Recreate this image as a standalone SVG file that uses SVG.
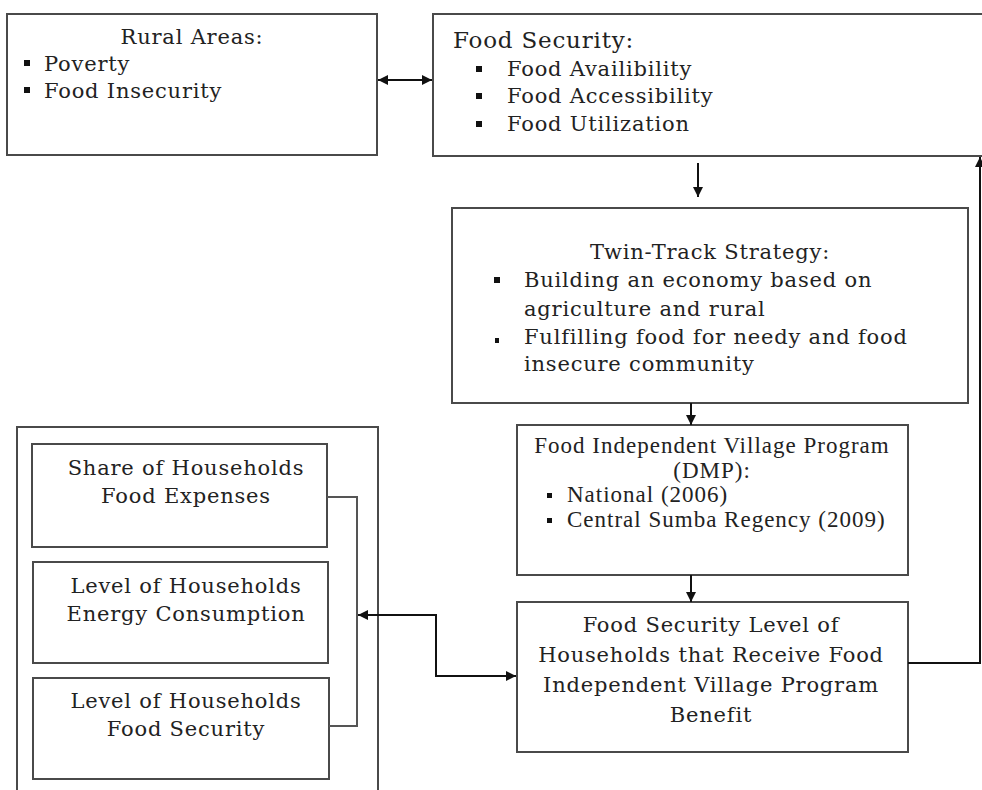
<svg xmlns="http://www.w3.org/2000/svg" width="982" height="790" viewBox="0 0 982 790">
<defs>
<style>
.box{fill:#fff;stroke:#4a4a4a;stroke-width:2}
.t{font-family:"DejaVu Serif","Liberation Serif",serif;font-size:21px;letter-spacing:0.8px;fill:#222}
.tc{font-family:"DejaVu Serif","Liberation Serif",serif;font-size:21px;letter-spacing:0.8px;fill:#222;text-anchor:middle}
.d{font-family:"Liberation Serif","DejaVu Serif",serif;font-size:23px;letter-spacing:1px;fill:#222}
.con{fill:none;stroke:#111;stroke-width:2}
.br{fill:none;stroke:#555;stroke-width:2}
.b{fill:#111}
</style>
<marker id="ah" viewBox="0 0 10 10" refX="10" refY="5" markerWidth="5" markerHeight="5" orient="auto-start-reverse" markerUnits="strokeWidth">
<path d="M0,0 L10,5 L0,10 z" fill="#111"/>
</marker>
</defs>
<rect width="982" height="790" fill="#fff"/>

<g id="rural">
<rect class="box" x="7" y="14" width="370" height="141"/>
<text class="tc" x="192" y="44">Rural Areas:</text>
<rect class="b" x="24" y="60" width="6" height="6"/>
<text class="t" x="44" y="71">Poverty</text>
<rect class="b" x="24" y="87" width="6" height="6"/>
<text class="t" x="44" y="98">Food Insecurity</text>
</g>

<g id="foodsecurity">
<rect class="box" x="433" y="14" width="570" height="142"/>
<text class="t" x="453" y="48" style="font-size:23px">Food Security:</text>
<rect class="b" x="476" y="66" width="6" height="6"/>
<text class="t" x="507" y="76">Food Availibility</text>
<rect class="b" x="476" y="93" width="6" height="6"/>
<text class="t" x="507" y="103">Food Accessibility</text>
<rect class="b" x="476" y="121" width="6" height="6"/>
<text class="t" x="507" y="131">Food Utilization</text>
</g>

<g id="twintrack">
<rect class="box" x="452" y="208" width="516" height="195"/>
<text class="tc" x="710" y="259">Twin-Track Strategy:</text>
<rect class="b" x="494" y="277" width="6" height="6"/>
<text class="t" x="524" y="287">Building an economy based on</text>
<text class="t" x="524" y="316">agriculture and rural</text>
<rect class="b" x="495" y="338" width="4" height="5"/>
<text class="t" x="524" y="344">Fulfilling food for needy and food</text>
<text class="t" x="524" y="371">insecure community</text>
</g>

<g id="dmp">
<rect class="box" x="517" y="425" width="391" height="150"/>
<text class="d" x="712" y="453" text-anchor="middle">Food Independent Village Program</text>
<text class="d" x="712" y="478" text-anchor="middle">(DMP):</text>
<rect class="b" x="547" y="493" width="5" height="5"/>
<text class="d" x="567" y="502">National (2006)</text>
<rect class="b" x="547" y="518" width="5" height="5"/>
<text class="d" x="567" y="527">Central Sumba Regency (2009)</text>
</g>

<g id="fsl">
<rect class="box" x="517" y="602" width="391" height="150"/>
<text class="tc" x="711" y="632">Food Security Level of</text>
<text class="tc" x="711" y="662">Households that Receive Food</text>
<text class="tc" x="711" y="692">Independent Village Program</text>
<text class="tc" x="711" y="722">Benefit</text>
</g>

<g id="indicators">
<rect class="box" x="17" y="427" width="361" height="380"/>
<g id="share">
<rect class="box" x="32" y="444" width="295" height="103"/>
<text class="tc" x="186" y="475">Share of Households</text>
<text class="tc" x="186" y="503">Food Expenses</text>
</g>
<g id="energy">
<rect class="box" x="33" y="562" width="295" height="101"/>
<text class="tc" x="186" y="593">Level of Households</text>
<text class="tc" x="186" y="621">Energy Consumption</text>
</g>
<g id="hhfs">
<rect class="box" x="33" y="678" width="296" height="101"/>
<text class="tc" x="186" y="708">Level of Households</text>
<text class="tc" x="186" y="736">Food Security</text>
</g>
</g>

<g id="connectors">
<polyline class="br" points="327,497 357,497 357,726 329,726"/>
<line class="con" x1="378" y1="80" x2="432" y2="80" marker-start="url(#ah)" marker-end="url(#ah)"/>
<line class="con" x1="698" y1="163" x2="698" y2="197" marker-end="url(#ah)"/>
<line class="con" x1="691" y1="403" x2="691" y2="425" marker-end="url(#ah)"/>
<line class="con" x1="691" y1="575" x2="691" y2="602" marker-end="url(#ah)"/>
<polyline class="con" points="908,663 980,663 980,157" marker-end="url(#ah)"/>
<polyline class="con" points="358,615 436,615 436,676 516,676" marker-start="url(#ah)" marker-end="url(#ah)"/>
</g>
</svg>
